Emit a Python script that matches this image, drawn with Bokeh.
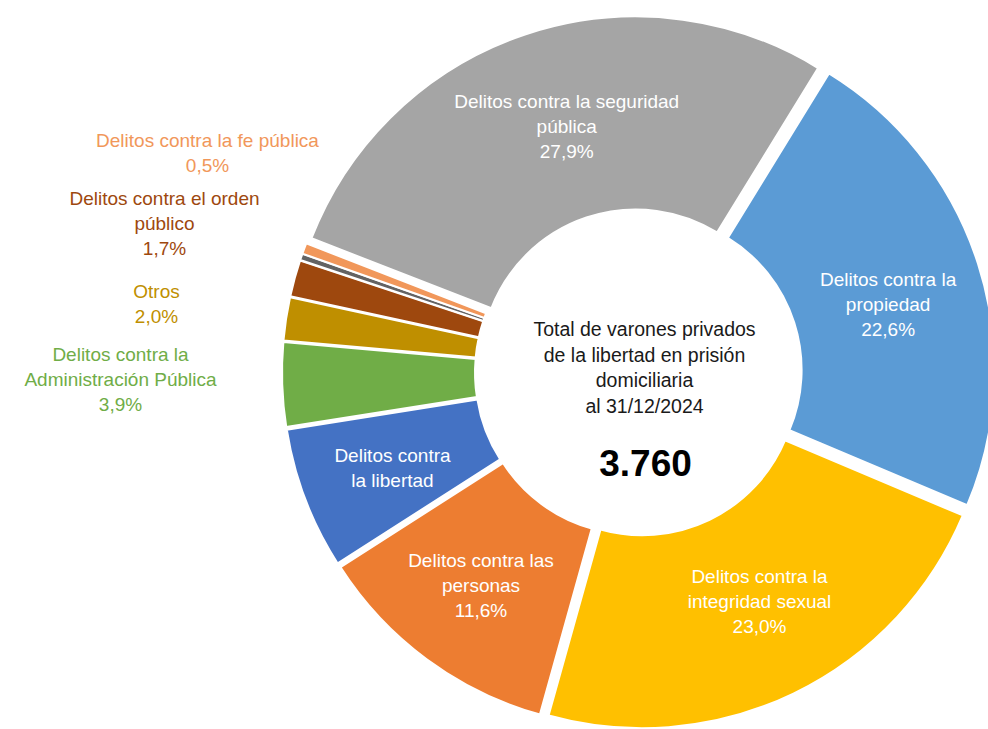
import numpy as np
from bokeh.plotting import figure
from bokeh.models import ColumnDataSource, Range1d
from bokeh.core.properties import value
from bokeh.embed import file_html
from bokeh.resources import INLINE

W, H = 988, 729

# Slices in clockwise order, starting from the "propiedad" slice
categories = [
    "Delitos contra la propiedad",
    "Delitos contra la integridad sexual",
    "Delitos contra las personas",
    "Delitos contra la libertad",
    "Delitos contra la Administración Pública",
    "Otros",
    "Delitos contra el orden público",
    "Sin dato",
    "Delitos contra la fe pública",
    "Delitos contra la seguridad pública",
]
shares = [22.6, 23.0, 11.6, 6.6, 3.9, 2.0, 1.7, 0.3, 0.5, 27.9]
colors = ["#5B9BD5", "#FFC000", "#ED7D31", "#4472C4", "#70AD47",
          "#BF8F00", "#9E480E", "#636363", "#F1975A", "#A5A5A5"]

# Label text, line by line; the share is appended when show_share is True
label_lines = [
    ["Delitos contra la", "propiedad"],
    ["Delitos contra la", "integridad sexual"],
    ["Delitos contra las", "personas"],
    ["Delitos contra", "la libertad"],
    ["Delitos contra la", "Administración Pública"],
    ["Otros"],
    ["Delitos contra el orden", "público"],
    [],
    ["Delitos contra la fe pública"],
    ["Delitos contra la seguridad", "pública"],
]
show_share = [True, True, True, False, True, True, True, False, True, True]
label_inside = [True, True, True, True, False, False, False, False, False, True]

total_people = "3.760"
center_lines = ["Total de varones privados", "de la libertad en prisión",
                "domiciliaria", "al 31/12/2024"]

# ---- geometry of the ring -------------------------------------------------
CX, CY = 638, H - 372
R_OUT, R_IN = 348, 155
EXPLODE = 8.5
START = 31.6          # degrees, clockwise from 12 o'clock
FONT = value("Liberation Sans")
LINE = 25

vals = np.array(shares, dtype=float)
frac = vals / vals.sum()
phi_end = START + 360.0 * np.cumsum(frac)
phi_start = phi_end - 360.0 * frac
phi_mid = np.radians((phi_start + phi_end) / 2.0)
ux, uy = np.sin(phi_mid), np.cos(phi_mid)

src = ColumnDataSource(dict(
    x=CX + EXPLODE * ux,
    y=CY + EXPLODE * uy,
    start=np.radians(90.0 - phi_start),
    end=np.radians(90.0 - phi_end),
    color=colors,
    name=categories,
))

p = figure(width=W, height=H, x_range=Range1d(0, W), y_range=Range1d(0, H),
           output_backend="svg", toolbar_location=None,
           x_axis_location=None, y_axis_location=None, min_border=0)
p.grid.visible = False
p.outline_line_color = None
p.background_fill_color = "white"
p.border_fill_color = "white"

p.annular_wedge(x="x", y="y", inner_radius=R_IN, outer_radius=R_OUT,
                start_angle="start", end_angle="end", direction="clock",
                fill_color="color", line_color="white", line_width=2,
                source=src)


def fmt_share(v):
    return f"{v:.1f}".replace(".", ",") + "%"


def block(lines, x, y, color, size="19px", style="normal", step=LINE):
    n = len(lines)
    ys = [y - (i - (n - 1) / 2.0) * step for i in range(n)]
    p.text(x=[x] * n, y=ys, text=lines, text_font=FONT, text_font_size=size,
           text_font_style=style, text_color=color, text_align="center",
           text_baseline="middle")


# labels inside the ring, centred on each slice's bisector (small nudges in px)
r_lab = (R_IN + R_OUT) / 2.0 + EXPLODE
nudge = {
    "Delitos contra la seguridad pública": (11, 0),
    "Delitos contra la propiedad": (2, -11),
    "Delitos contra la integridad sexual": (8, 5),
    "Delitos contra las personas": (-3, -4),
    "Delitos contra la libertad": (-3, -3),
}
for i, inside in enumerate(label_inside):
    if not inside:
        continue
    lines = list(label_lines[i])
    if show_share[i]:
        lines.append(fmt_share(shares[i]))
    dx, dy = nudge.get(categories[i], (0, 0))
    block(lines, CX + r_lab * ux[i] + dx, CY + r_lab * uy[i] + dy, "white")

# labels for the narrow slices, stacked on the left
outside_pos = {
    "Delitos contra la fe pública": (207, 152),
    "Delitos contra el orden público": (164, 223),
    "Otros": (156, 303),
    "Delitos contra la Administración Pública": (120, 379),
}
for i, name in enumerate(categories):
    if name not in outside_pos:
        continue
    lines = list(label_lines[i])
    if show_share[i]:
        lines.append(fmt_share(shares[i]))
    x, ys = outside_pos[name]
    block(lines, x, H - ys, colors[i])

# centre of the ring
block(center_lines, 644, H - 367, "#1A1A1A", size="19.5px", step=25.7)
block([total_people], 645, H - 462, "#000000", size="37px", style="bold")

open("out.html", "w").write(file_html(p, INLINE))
